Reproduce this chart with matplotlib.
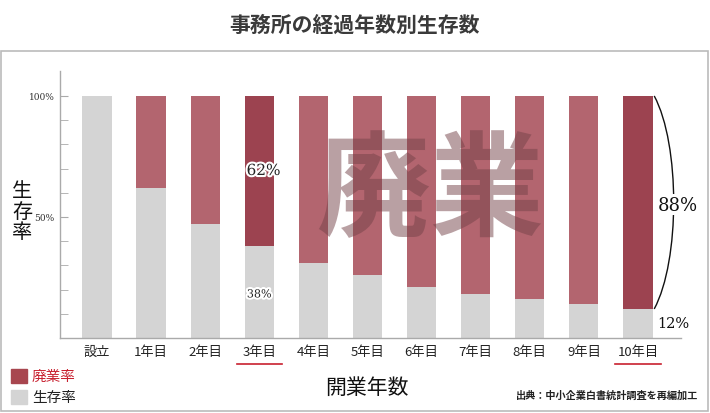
import matplotlib.pyplot as plt
import matplotlib.patheffects as pe
from matplotlib.patches import Rectangle, PathPatch
from matplotlib.path import Path
import matplotlib.transforms as mtransforms

plt.rcParams['font.family'] = ['Noto Sans CJK JP', 'DejaVu Sans']

# data
categories = ['設立', '1年目', '2年目', '3年目', '4年目', '5年目',
              '6年目', '7年目', '8年目', '9年目', '10年目']
survival = [100, 62, 47, 38, 31, 26, 21, 18, 16, 14, 12]
closure = [100 - s for s in survival]
highlight = ['3年目', '10年目']
yticks_major = [50, 100]
ytick_labels = ['50%', '100%']

GREY = '#d4d4d4'
LIGHT_RED = '#b3656f'
DARK_RED = '#9c4350'
RED_TXT = '#c8202f'
SERIF = ['DejaVu Serif']

fig = plt.figure(figsize=(7.1, 4.14), dpi=100)
fig.patch.set_facecolor('white')

# outer frame
fig.add_artist(Rectangle((1 / 710, 2 / 414), 707 / 710, 360 / 414,
                         transform=fig.transFigure, fill=False,
                         edgecolor='#bbbbbb', lw=1.2))

fig.text(0.5, 1 - 25 / 414, '事務所の経過年数別生存数', ha='center', va='center',
         fontsize=15, fontweight='bold', color='#3a3a3a')

ax = fig.add_axes([60 / 710, 75 / 414, 621 / 710, 267 / 414])
x = list(range(len(categories)))
colors = [DARK_RED if c in highlight else LIGHT_RED for c in categories]

ax.bar(x, survival, width=0.54, color=GREY, zorder=2)
ax.bar(x, closure, bottom=survival, width=0.54, color=colors, zorder=2)

ax.set_xlim(-0.684, 10.795)
ax.set_ylim(0, 110.3)

for s in ['top', 'right']:
    ax.spines[s].set_visible(False)
for s in ['left', 'bottom']:
    ax.spines[s].set_color('#aaaaaa')
    ax.spines[s].set_linewidth(1.0)

ax.set_yticks(yticks_major)
ax.set_yticklabels(ytick_labels, fontfamily=SERIF, fontsize=6.5, color='#333333')
ax.set_yticks(range(10, 101, 10), minor=True)
ax.tick_params(axis='y', which='both', direction='in', length=6, color='#aaaaaa', pad=4)
ax.set_xticks(x)
ax.set_xticklabels(categories, fontsize=9.5, color='#222222')
ax.tick_params(axis='x', length=0, pad=5)

# red underlines under highlighted years
trans = mtransforms.blended_transform_factory(ax.transData, ax.transAxes)
for c in highlight:
    i = categories.index(c)
    ax.plot([i - 0.42, i + 0.42], [-0.097, -0.097], transform=trans,
            color=RED_TXT, lw=1.2, clip_on=False)

# watermark
ax.text(6.16, 60, '廃業', ha='center', va='center', fontsize=82,
        fontweight='bold', color='#744248', alpha=0.5, zorder=3)

halo = [pe.withStroke(linewidth=3, foreground='white')]
i3 = categories.index('3年目')
ax.text(i3 + 0.08, survival[i3] + closure[i3] / 2, f'{closure[i3]}%',
        ha='center', va='center', fontfamily=SERIF, fontsize=11,
        color='#222222', path_effects=halo, zorder=4)
ax.text(i3, survival[i3] / 2 - 1, f'{survival[i3]}%',
        ha='center', va='center', fontfamily=SERIF, fontsize=8,
        color='#222222', path_effects=halo, zorder=4)

# bracket at the last bar
i10 = categories.index('10年目')
verts = [(i10 + 0.3, 100), (i10 + 0.78, 80), (i10 + 0.78, 32), (i10 + 0.3, 12)]
ax.add_patch(PathPatch(Path(verts, [Path.MOVETO, Path.CURVE4, Path.CURVE4, Path.CURVE4]),
                       fill=False, lw=1.0, edgecolor='#111111', clip_on=False, zorder=3))
ax.text(i10 + 0.36, 55, f'{closure[i10]}%', ha='left', va='center',
        fontfamily=SERIF, fontsize=13, color='#111111', zorder=4,
        bbox=dict(facecolor='white', edgecolor='none', pad=1))
ax.text(i10 + 0.36, survival[i10] / 2, f'{survival[i10]}%', ha='left', va='center',
        fontfamily=SERIF, fontsize=10.5, color='#111111', zorder=4)

# y label, stacked characters
fig.text(22 / 710, 1 - 212 / 414, '生\n存\n率', ha='center', va='center',
         fontsize=14.5, linespacing=1.0, color='#111111')

fig.text(367 / 710, 1 - 388 / 414, '開業年数', ha='center', va='center',
         fontsize=15, color='#111111')

# legend
fig.add_artist(Rectangle((11 / 710, 1 - 384 / 414), 16 / 710, 14 / 414,
                         transform=fig.transFigure, color='#a8464f'))
fig.add_artist(Rectangle((11 / 710, 1 - 405 / 414), 16 / 710, 14 / 414,
                         transform=fig.transFigure, color=GREY))
fig.text(32 / 710, 1 - 377 / 414, '廃業率', ha='left', va='center',
         fontsize=10.5, color=RED_TXT)
fig.text(32 / 710, 1 - 398 / 414, '生存率', ha='left', va='center',
         fontsize=10.5, color='#222222')

fig.text(698 / 710, 1 - 396 / 414, '出典：中小企業白書統計調査を再編加工',
         ha='right', va='center', fontsize=7.3, fontweight='bold', color='#222222')

fig.savefig('out.png', dpi=100)
